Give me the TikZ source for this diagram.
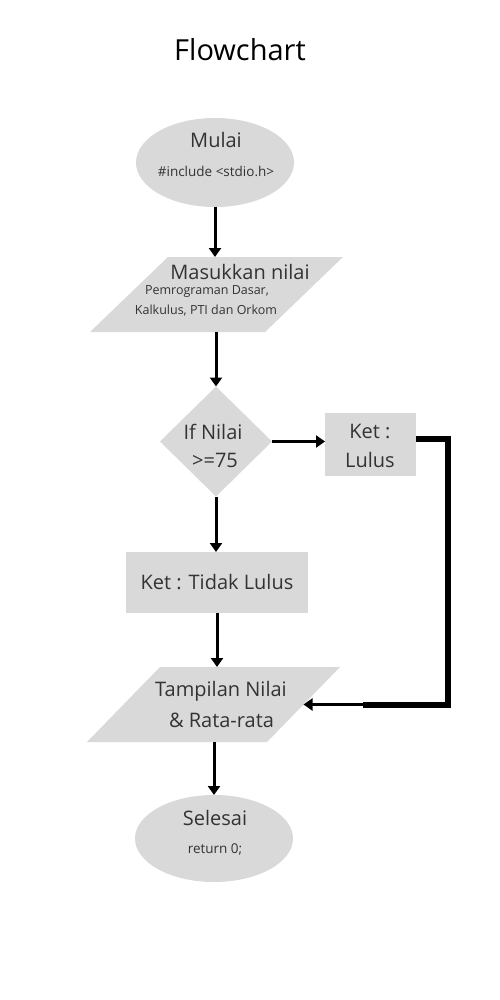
\documentclass[tikz,border=0pt]{standalone}
\usepackage{fontspec}
\setmainfont{Open Sans}
\usetikzlibrary{shapes.geometric,arrows.meta}
\definecolor{boxgray}{HTML}{D9D9D9}
\definecolor{txt}{HTML}{333333}
\begin{document}
\begin{tikzpicture}[x=1pt,y=-1pt,
  shapebox/.style={fill=boxgray,draw=none,inner sep=0pt,outer sep=0pt},
  term/.style={shapebox,ellipse,minimum width=158pt},
  iobox/.style={draw=none,inner sep=0pt,outer sep=0pt,rectangle,minimum height=75pt,minimum width=253pt},
  proc/.style={shapebox,rectangle},
  dec/.style={shapebox,diamond,minimum width=112pt,minimum height=110pt},
  arr/.style={line width=3pt,-{Triangle[width=12pt,length=9pt]}},
  big/.style={font=\fontsize{20}{22}\selectfont,text=txt,inner sep=0pt},
  small/.style={font=\fontsize{13.5}{15}\selectfont,text=txt,inner sep=0pt},
  tiny/.style={font=\fontsize{12.5}{14}\selectfont,text=txt,inner sep=0pt}
]
\useasboundingbox (0,0) rectangle (500,1000);
\fill[white] (0,0) rectangle (500,1000);

\node[font=\fontsize{29}{32}\selectfont,text=black,inner sep=0pt] (title) at (240,50) {Flowchart};

% shapes
\node[term,minimum height=89pt] (start) at (215,162.5) {};
\node[iobox] (in) at (216.5,294.5) {};
\fill[boxgray] (in.south west) -- ([xshift=-78pt]in.south east) -- (in.north east) -- ([xshift=78pt]in.north west) -- cycle;
\node[dec] (if) at (216,441.5) {};
\node[proc,minimum width=91pt,minimum height=63pt] (lulus) at (370.5,444.5) {};
\node[proc,minimum width=182pt,minimum height=61pt] (tidak) at (217,582.5) {};
\node[iobox] (out) at (213.5,704.5) {};
\fill[boxgray] (out.south west) -- ([xshift=-73pt]out.south east) -- (out.north east) -- ([xshift=73pt]out.north west) -- cycle;
\coordinate (outE) at ([xshift=-36.5pt]out.east);
\node[term,minimum height=87pt] (end) at (214,838.5) {};

% texts
\node[big] (t1) at (216,140) {Mulai};
\node[small] (t2) at (216,171) {\#include <stdio.h>};
\node[big] (t3) at (240,272) {Masukkan nilai};
\node[tiny] (t4) at (207,292) {Pemrograman Dasar,};
\node[tiny] (t5) at (206,311) {Kalkulus, PTI dan Orkom};
\node[big] (t6) at (213,432) {If Nilai};
\node[big] (t7) at (215,460) {>=75};
\node[big] (t8) at (370,431) {Ket :};
\node[big] (t9) at (370,460) {Lulus};
\node[big] (t10) at (217,582) {Ket : Tidak Lulus};
\node[big] (t11) at (221,691) {Tampilan Nilai};
\node[big] (t12) at (221.5,720) {\& Rata-rata};
\node[big] (t13) at (215,818) {Selesai};
\node[small] (t14) at (215,849) {return 0;};

% connectors
\draw[arr] (start.south) -- (start.south |- in.north);
\draw[arr] (in.south -| if.north) -- (if.north);
\draw[arr] (if.east) -- (if.east -| lulus.west);
\draw[arr] (if.south) -- (if.south |- tidak.north);
\draw[arr] (tidak.south) -- (tidak.south |- out.north);
\draw[arr] (end.north |- out.south) -- (end.north);
\coordinate (bend) at (448,704.5);
\coordinate (mid) at (363,704.5);
\draw[line width=6pt] ([yshift=5.5pt]lulus.east) -| (bend) -- (mid);
\draw[arr] (mid) -- (outE);
\end{tikzpicture}
\end{document}
